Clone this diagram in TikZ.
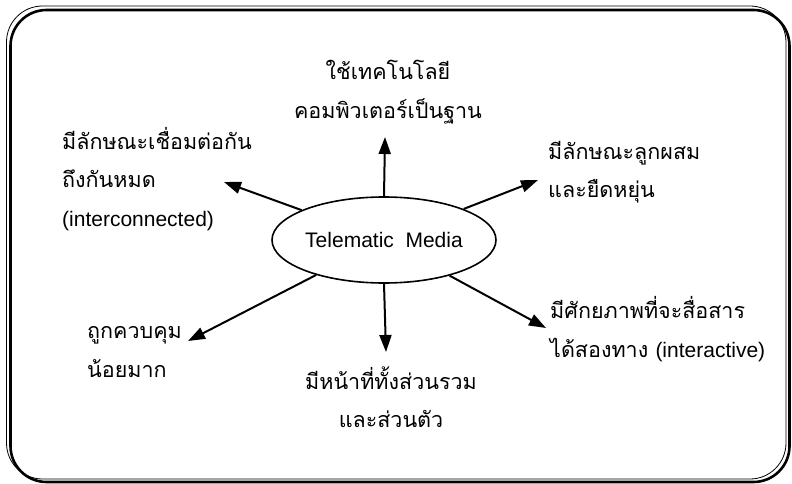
\documentclass[tikz,border=0pt]{standalone}
\usepackage{fontspec}
\setmainfont{Liberation Sans}
\newfontfamily\thai[Script=Thai]{Loma}
\usetikzlibrary{arrows.meta,shapes.geometric}
\tikzset{
  lbl/.style={font=\thai\fontsize{21.5}{38.5}\selectfont, align=left, inner sep=0pt},
  lblc/.style={lbl, align=center},
  arr/.style={line width=2pt, -{Triangle[length=17pt,width=12pt]}},
  ell/.style={ellipse, draw, line width=1.6pt, inner sep=0pt, minimum width=224pt, minimum height=86pt, font=\fontsize{21}{24}\selectfont}
}
\begin{document}
\begin{tikzpicture}[x=1pt,y=-1pt]
\useasboundingbox (0,0) rectangle (792,484);
\draw[line width=0.8pt, rounded corners=36pt] (6.5,6) rectangle (786,479);
\draw[line width=2.6pt, rounded corners=36pt] (10.5,10) rectangle (789.5,482);
\node[ell] (e) at (384,240) {Telematic\ \ Media};
\node[lblc] (top) at (388,92) {ใช้เทคโนโลยี\\คอมพิวเตอร์เป็นฐาน};
\node[lbl, anchor=west] (tl) at (62,179) {มีลักษณะเชื่อมต่อกัน\\ถึงกันหมด\\{\rmfamily\fontsize{21}{24}\selectfont (interconnected)}};
\node[lbl, anchor=west] (tr) at (548,172) {มีลักษณะลูกผสม\\และยืดหยุ่น};
\node[lbl, anchor=west] (bl) at (87,352) {ถูกควบคุม\\น้อยมาก};
\node[lblc] (bm) at (391,397) {มีหน้าที่ทั้งส่วนรวม\\และส่วนตัว};
\node[lbl, anchor=west] (br) at (550,329) {มีศักยภาพที่จะสื่อสาร\\ได้สองทาง {\rmfamily\fontsize{21}{24}\selectfont (interactive)}};
\coordinate (ttop) at (385,137);
\coordinate (ttl) at (224,182);
\coordinate (ttr) at (538,180);
\coordinate (tbl) at (188,341);
\coordinate (tbm) at (386,352);
\coordinate (tbr) at (546,328);
\draw[arr] (e.north) -- (ttop);
\draw[arr] (e) -- (ttl);
\draw[arr] (e) -- (ttr);
\draw[arr] (e) -- (tbl);
\draw[arr] (e.south) -- (tbm);
\draw[arr] (e) -- (tbr);
\end{tikzpicture}
\end{document}
